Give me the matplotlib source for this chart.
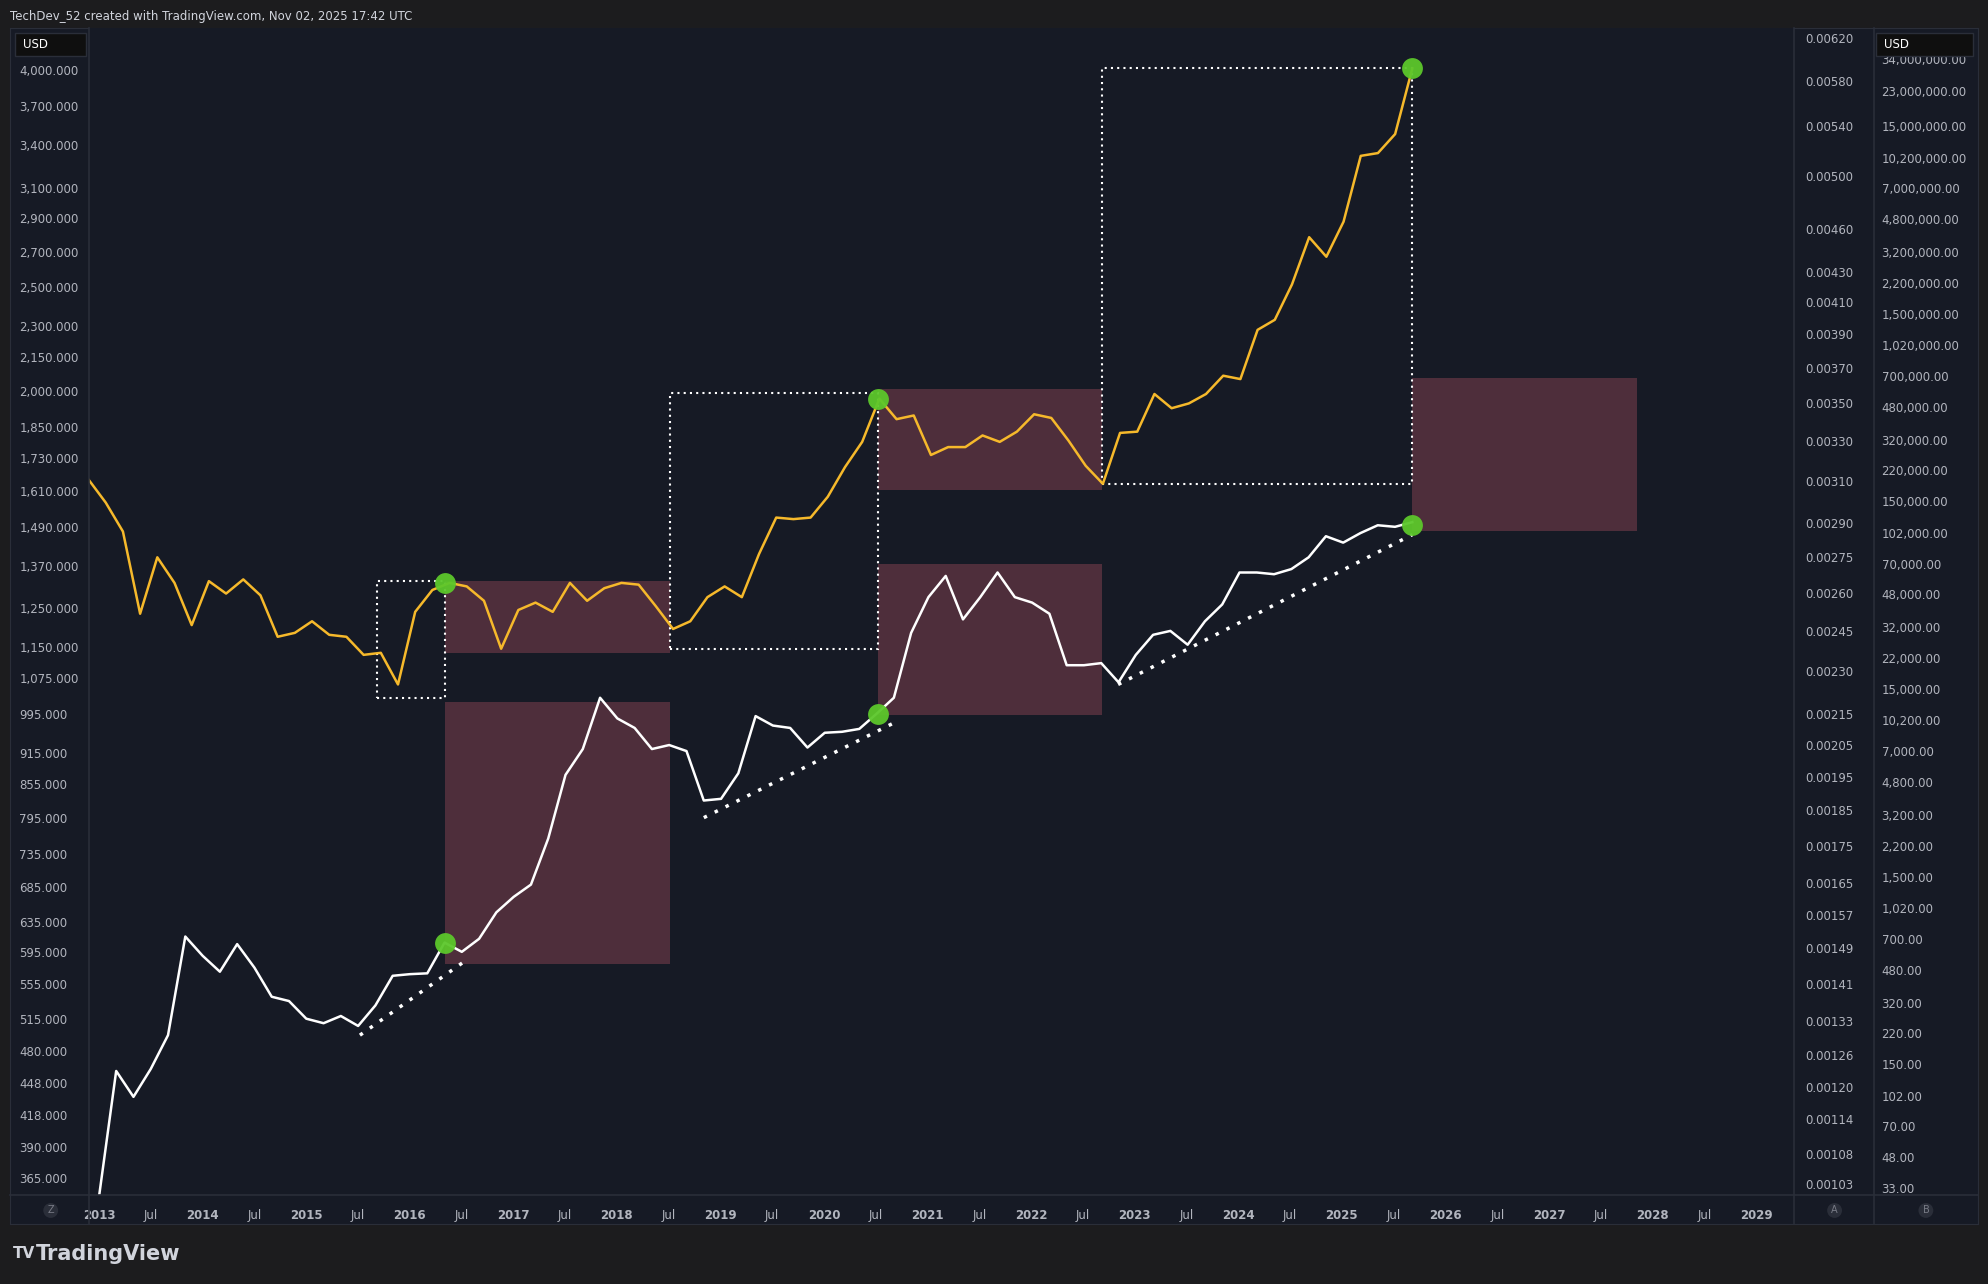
import numpy as np
import matplotlib
matplotlib.use("Agg")
import matplotlib.pyplot as plt
from matplotlib.patches import Rectangle

# ---------------- data ----------------
gold_start, gold_end = 2012.90, 2025.68
gold = [1650,1570,1475,1235,1395,1320,1205,1325,1290,1330,1285,1175,1185,1215,1180,1175,
        1130,1135,1060,1240,1300,1320,1310,1270,1145,1245,1265,1240,1320,1270,1305,1320,
        1315,1255,1195,1215,1280,1310,1280,1405,1520,1515,1520,1590,1695,1790,1965,1880,
        1895,1740,1770,1770,1815,1790,1830,1900,1885,1795,1700,1635,1825,1830,1985,1925,
        1945,1985,2065,2050,2280,2330,2515,2785,2670,2880,3320,3340,3480,4010]
white_start, white_end = 2013.0, 2025.68
white = [350,460,435,462,497,615,590,570,605,575,540,535,515,510,518,507,530,565,567,568,
         607,595,612,648,670,688,760,872,922,1030,985,965,922,930,918,825,828,875,990,970,
         965,925,955,957,963,995,1030,1185,1280,1340,1220,1280,1350,1280,1265,1235,1105,1105,
         1110,1065,1130,1180,1190,1155,1215,1260,1350,1350,1345,1360,1395,1460,1440,1470,
         1495,1490,1505]
# (x0, x1, y0, y1)
dotted_boxes = [(2015.68, 2016.34, 1030, 1325), (2018.51, 2020.52, 1145, 1990),
                (2022.68, 2025.68, 1635, 4010)]
shaded_boxes = [(2016.34, 2018.51, 1135, 1325), (2016.34, 2018.51, 580, 1020),
                (2020.52, 2022.68, 1615, 2005), (2020.52, 2022.68, 992, 1375),
                (2025.68, 2027.85, 1475, 2055)]
green_x = [2016.34, 2020.52, 2025.68, 2016.34, 2020.52, 2025.68]
green_y = [1320, 1965, 4010, 607, 995, 1495]
trend_lines = [((2015.52, 2016.52), (497, 582)), ((2018.84, 2020.67), (795, 975)),
               ((2022.84, 2025.68), (1060, 1465))]
left_ticks = [4000,3700,3400,3100,2900,2700,2500,2300,2150,2000,1850,1730,1610,1490,1370,
              1250,1150,1075,995,915,855,795,735,685,635,595,555,515,480,448,418,390,365]
mid_ticks = [0.00620,0.00580,0.00540,0.00500,0.00460,0.00430,0.00410,0.00390,0.00370,0.00350,
             0.00330,0.00310,0.00290,0.00275,0.00260,0.00245,0.00230,0.00215,0.00205,0.00195,
             0.00185,0.00175,0.00165,0.00157,0.00149,0.00141,0.00133,0.00126,0.00120,0.00114,
             0.00108,0.00103]
right_ticks = [34e6,23e6,15e6,10.2e6,7e6,4.8e6,3.2e6,2.2e6,1.5e6,1.02e6,700e3,480e3,320e3,
               220e3,150e3,102e3,70e3,48e3,32e3,22e3,15e3,10.2e3,7e3,4.8e3,3.2e3,2.2e3,1.5e3,
               1.02e3,700,480,320,220,150,102,70,48,33]
x_tick_labels = ["2013","Jul","2014","Jul","2015","Jul","2016","Jul","2017","Jul","2018","Jul",
                 "2019","Jul","2020","Jul","2021","Jul","2022","Jul","2023","Jul","2024","Jul",
                 "2025","Jul","2026","Jul","2027","Jul","2028","Jul","2029"]

# ---------------- figure ----------------
W, H = 1568, 1013
BG = "#161a25"
OUT = "#1c1c1e"
TXT = "#b2b5be"
fig = plt.figure(figsize=(19.88, 12.84), dpi=100, facecolor=OUT)

def fx(px): return px / W
def fy(py): return 1 - py / H

panel = fig.add_axes([fx(8), fy(966), fx(1560-8), fy(22)-fy(966)])
panel.set_facecolor(BG); panel.set_xticks([]); panel.set_yticks([])
for s in panel.spines.values(): s.set_color("#2a2e39")

ax = fig.add_axes([fx(70), fy(943), fx(1415-70), fy(22)-fy(943)])
ax.set_facecolor(BG)
ax.set_yscale("log")
ax.set_ylim(351.7, 4377)
ax.set_xlim(2012.902, 2029.365)
for s in ax.spines.values(): s.set_visible(False)

gx = np.linspace(gold_start, gold_end, len(gold))
wx = np.linspace(white_start, white_end, len(white))
for (x0, x1, y0, y1) in shaded_boxes:
    ax.add_patch(Rectangle((x0, y0), x1-x0, y1-y0, facecolor="#9c4a5a", alpha=0.42,
                           edgecolor="none", zorder=1))
for (x0, x1, y0, y1) in dotted_boxes:
    ax.add_patch(Rectangle((x0, y0), x1-x0, y1-y0, facecolor="none", edgecolor="white",
                           linestyle=(0, (1, 2)), linewidth=1.5, zorder=2))
for xs, ys in trend_lines:
    ax.plot(xs, ys, color="white", linestyle=(0, (1, 2.5)), linewidth=2.5, zorder=3)
ax.plot(gx, gold, color="#f6b92b", linewidth=1.8, zorder=4)
ax.plot(wx, white, color="white", linewidth=1.8, zorder=4)
ax.plot(green_x, green_y, "o", color="#5cc72b", markersize=15, alpha=0.95, zorder=5,
        markeredgewidth=0)

ax.set_yticks(left_ticks)
ax.set_yticklabels([f"{v:,.3f}" for v in left_ticks])
ax.yaxis.set_minor_locator(matplotlib.ticker.NullLocator())
ax.tick_params(axis="y", length=0, pad=50, labelsize=8.5, labelcolor=TXT)
for lab in ax.get_yticklabels(): lab.set_horizontalalignment("left")
xt = [2013 + 0.5*i for i in range(len(x_tick_labels))]
ax.set_xticks(xt)
ax.set_xticklabels(x_tick_labels)
ax.tick_params(axis="x", length=0, pad=10, labelsize=8.5, labelcolor=TXT)
for lab in ax.get_xticklabels():
    if lab.get_text() != "Jul": lab.set_fontweight("bold")

ax2 = ax.twinx()
ax2.set_yscale("log"); ax2.set_ylim(0.001012, 0.006301)
ax2.set_yticks(mid_ticks); ax2.set_yticklabels([f"{v:.5f}" for v in mid_ticks])
ax2.yaxis.set_minor_locator(matplotlib.ticker.NullLocator())
ax2.tick_params(axis="y", length=0, pad=8, labelsize=8.5, labelcolor=TXT)
for s in ax2.spines.values(): s.set_visible(False)

ax3 = ax.twinx()
ax3.set_yscale("log"); ax3.set_ylim(30.1, 5.006e7)
ax3.set_yticks(right_ticks); ax3.set_yticklabels([f"{v:,.2f}" for v in right_ticks])
ax3.yaxis.set_minor_locator(matplotlib.ticker.NullLocator())
ax3.tick_params(axis="y", length=0, pad=63, labelsize=8.5, labelcolor=TXT)
for s in ax3.spines.values(): s.set_visible(False)

for xp in (70, 1415, 1478):
    fig.add_artist(plt.Line2D([fx(xp), fx(xp)], [fy(966), fy(22)], color="#2a2e39", lw=1.2))
fig.add_artist(plt.Line2D([fx(8), fx(1560)], [fy(943), fy(943)], color="#2a2e39", lw=1.2))

for (x0, x1) in ((12, 68), (1480, 1556)):
    fig.add_artist(Rectangle((fx(x0), fy(44)), fx(x1-x0), fy(26)-fy(44), transform=fig.transFigure,
                             facecolor="#0f0f0f", edgecolor="#2a2e39", lw=1))
    fig.text(fx(x0+6), fy(35), "USD", color="white", fontsize=8.5, va="center")

for (xp, t) in ((40, "Z"), (1447, "A"), (1519, "B")):
    fig.text(fx(xp), fy(955), t, color="#787b86", fontsize=7, ha="center", va="center",
             bbox=dict(boxstyle="circle,pad=0.25", fc="#2a2e39", ec="none"))

fig.text(fx(8), fy(13), "TechDev_52 created with TradingView.com, Nov 02, 2025 17:42 UTC",
         color="#d1d4dc", fontsize=8.5, va="center")
fig.text(fx(10), fy(989), "TV", color="#d1d4dc", fontsize=11, fontweight="bold",
         va="center", family="DejaVu Sans")
fig.text(fx(28), fy(989), "TradingView", color="#d1d4dc", fontsize=15,
         fontweight="bold", va="center")

fig.savefig("out.png", dpi=100, facecolor=OUT)
